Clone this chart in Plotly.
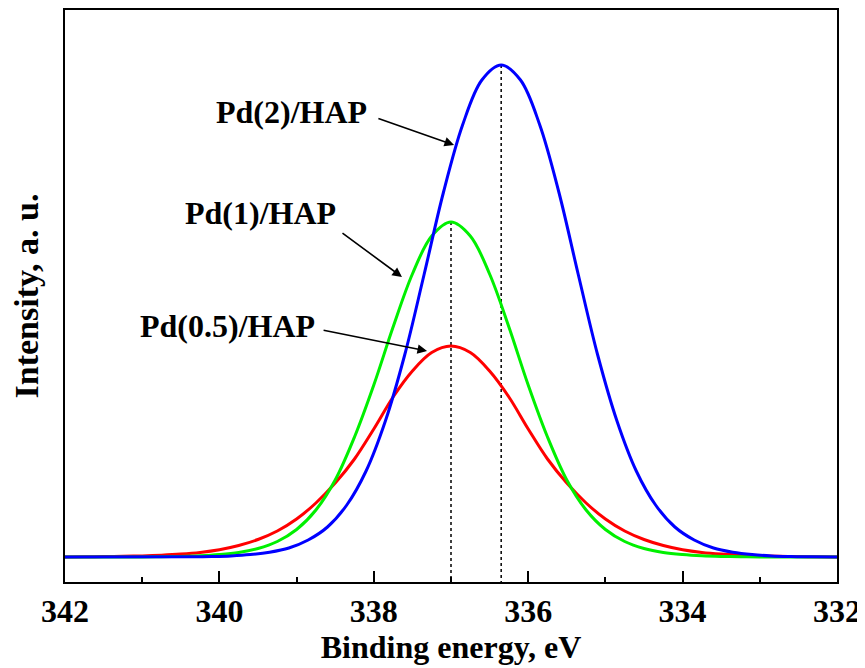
import plotly.graph_objects as go

# ---- data (binding energy in eV, intensity in a.u.) ----
pd05_energy = [342.0, 341.75, 341.5, 341.25, 341.0, 340.75, 340.5, 340.25, 340.0, 339.75, 339.5, 339.25,
               339.0, 338.75, 338.5, 338.25, 338.0, 337.75, 337.5, 337.25, 337.0, 336.75, 336.5, 336.25,
               336.0, 335.75, 335.5, 335.25, 335.0, 334.75, 334.5, 334.25, 334.0, 333.75, 333.5, 333.25,
               333.0, 332.75, 332.5, 332.25, 332.0]
pd05_intensity = [0.1, 0.2, 0.4, 0.7, 1.1, 1.8, 2.9, 4.6, 7.3, 11.5, 17.5, 26,
                  38, 54, 74, 98, 128, 160, 186, 204.5, 211, 204.5, 186, 160,
                  128, 98, 74, 54, 38, 26, 17.5, 11.5, 7.3, 4.6, 2.9, 1.8,
                  1.1, 0.7, 0.4, 0.2, 0.1]

pd1_energy = [342.0, 341.0, 340.75, 340.5, 340.25, 340.0, 339.75, 339.5, 339.25, 339.0, 338.75, 338.5,
              338.25, 338.0, 337.75, 337.5, 337.25, 337.0, 336.75, 336.5, 336.25, 336.0, 335.75, 335.5,
              335.25, 335.0, 334.75, 334.5, 334.25, 334.0, 333.75, 333.5, 333.25, 333.0, 332.0]
pd1_intensity = [0, 0.1, 0.3, 0.6, 1.2, 2.4, 4.5, 8.5, 15.5, 27.5, 47, 77,
                 120, 172, 230, 283, 321, 335, 321, 283, 230, 172, 120, 77,
                 47, 27.5, 15.5, 8.5, 4.5, 2.4, 1.2, 0.6, 0.3, 0.1, 0]

pd2_energy = [342.0, 340.35, 340.1, 339.85, 339.6, 339.35, 339.1, 338.85, 338.6, 338.35, 338.1,
              337.85, 337.6, 337.35, 337.1, 336.85, 336.6, 336.35, 336.1, 335.85, 335.6, 335.35,
              335.1, 334.85, 334.6, 334.35, 334.1, 333.85, 333.6, 333.35, 333.1, 332.85, 332.6,
              332.35, 332.0]
pd2_intensity = [0, 0.2, 0.5, 1.1, 2.4, 4.8, 9, 17, 30, 52, 86,
                 136, 202, 282, 364, 432, 477, 492, 477, 432, 364, 282,
                 202, 136, 86, 52, 30, 17, 9, 4.8, 2.4, 1.1, 0.5,
                 0.2, 0]

x_ticks = [342, 340, 338, 336, 334, 332]

series = [
    ("Pd(0.5)/HAP", pd05_energy, pd05_intensity, "rgb(255,0,0)"),
    ("Pd(1)/HAP", pd1_energy, pd1_intensity, "rgb(0,240,0)"),
    ("Pd(2)/HAP", pd2_energy, pd2_intensity, "rgb(0,0,255)"),
]

FONT = "Liberation Serif"
Y_MIN, Y_MAX = -25, 547

fig = go.Figure()
for name, xs, ys, col in series:
    fig.add_trace(go.Scatter(x=xs, y=ys, mode="lines", name=name,
                             line=dict(color=col, width=3, shape="spline", smoothing=1.0),
                             showlegend=False, hoverinfo="skip"))

# dotted lines from peak maxima down to the axis
for xs, ys in [(pd1_energy, pd1_intensity), (pd2_energy, pd2_intensity)]:
    i = ys.index(max(ys))
    fig.add_shape(type="line", xref="x", yref="y", x0=xs[i], x1=xs[i], y0=ys[i], y1=Y_MIN,
                  line=dict(color="black", width=1.5, dash="dot"), layer="below")

# labels with arrows: (text, text position, arrow tail, arrow head)
labels = [
    ("Pd(2)/HAP", (339.06, 445), (337.96, 439), (336.96, 412)),
    ("Pd(1)/HAP", (339.47, 344), (338.425, 325), (337.635, 280)),
    ("Pd(0.5)/HAP", (339.90, 231), (338.67, 227), (337.31, 206)),
]
for txt, (tx, ty), (ax_, ay_), (hx, hy) in labels:
    fig.add_annotation(x=tx, y=ty, xref="x", yref="y", text="<b>%s</b>" % txt, showarrow=False,
                       font=dict(family=FONT, size=32, color="black"))
    fig.add_annotation(x=hx, y=hy, ax=ax_, ay=ay_, xref="x", yref="y", axref="x", ayref="y",
                       text="", showarrow=True, arrowhead=2, arrowsize=1.2, arrowwidth=1.6,
                       arrowcolor="black")

# the page body adds an 8px offset, so the figure is 8px smaller and margins compensate
fig.update_layout(
    width=857, height=660,
    margin=dict(l=57, r=28, t=2, b=86, autoexpand=False),
    paper_bgcolor="white", plot_bgcolor="white",
    font=dict(family=FONT, color="black"),
)
fig.update_xaxes(range=[342, 332], tickvals=x_ticks, ticktext=[str(v) for v in x_ticks],
                 automargin=False,
                 ticks="inside", ticklen=11, tickwidth=2, tickcolor="black",
                 minor=dict(dtick=1, tick0=0, ticks="inside", ticklen=5, tickwidth=2, tickcolor="black"),
                 showline=True, linecolor="black", linewidth=2, mirror=True,
                 showgrid=False, zeroline=False, ticklabelstandoff=0,
                 tickfont=dict(family=FONT, size=32, color="black", weight="bold"),
                 title=dict(text="<b>Binding energy, eV</b>", font=dict(family=FONT, size=32), standoff=6))
fig.update_yaxes(range=[Y_MIN, Y_MAX], showticklabels=False, ticks="", automargin=False,
                 showline=True, linecolor="black", linewidth=2, mirror=True,
                 showgrid=False, zeroline=False,
                 title=dict(text="<b>Intensity, a. u.</b>", font=dict(family=FONT, size=34), standoff=15))

fig.write_html("out.html")
